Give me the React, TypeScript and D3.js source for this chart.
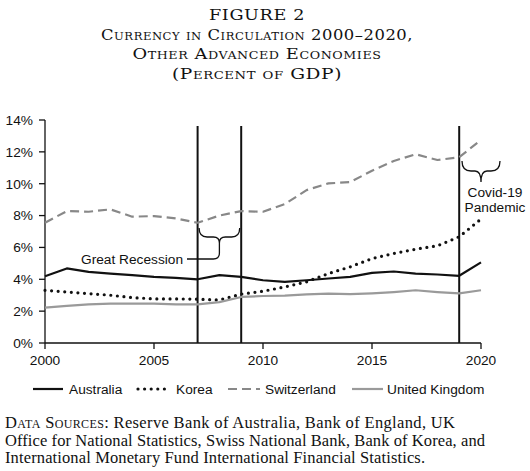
import * as d3 from 'd3';

const years = d3.range(2000, 2021);
const australia = [4.19, 4.68, 4.47, 4.36, 4.26, 4.15, 4.09, 4.0, 4.26, 4.15, 3.94, 3.84, 3.94, 4.05, 4.15, 4.4, 4.49, 4.36, 4.3, 4.22, 5.06];
const korea = [3.31, 3.2, 3.1, 3.0, 2.85, 2.77, 2.77, 2.75, 2.7, 3.07, 3.25, 3.52, 3.84, 4.36, 4.78, 5.3, 5.62, 5.89, 6.1, 6.67, 7.78];
const switzerland = [7.55, 8.28, 8.24, 8.39, 7.93, 7.97, 7.82, 7.55, 8.0, 8.28, 8.24, 8.72, 9.6, 10.02, 10.1, 10.82, 11.43, 11.85, 11.49, 11.66, 12.75];
const unitedKingdom = [2.22, 2.33, 2.43, 2.47, 2.47, 2.47, 2.43, 2.43, 2.57, 2.89, 2.95, 2.98, 3.05, 3.1, 3.07, 3.12, 3.2, 3.31, 3.2, 3.12, 3.31];
const yTicks = [0, 2, 4, 6, 8, 10, 12, 14];
const xTicks = [2000, 2005, 2010, 2015, 2020];
const eventYears = [2007, 2009, 2019];

const titleLines = [
    'FIGURE 2',
    'Currency in Circulation 2000–2020,',
    'Other Advanced Economies',
    '(Percent of GDP)',
];
const sourceLines = [
    ['Data Sources:', ' Reserve Bank of Australia, Bank of England, UK'],
    ['', 'Office for National Statistics, Swiss National Bank, Bank of Korea, and'],
    ['', 'International Monetary Fund International Financial Statistics.'],
];

const series = [
    { name: 'Australia', values: australia, color: '#111', width: 2.2, dash: undefined as string | undefined, cap: 'butt' },
    { name: 'Korea', values: korea, color: '#111', width: 3.2, dash: '0 6.6', cap: 'round' },
    { name: 'Switzerland', values: switzerland, color: '#888', width: 2.2, dash: '9 5', cap: 'butt' },
    { name: 'United Kingdom', values: unitedKingdom, color: '#9a9a9a', width: 2.2, dash: undefined, cap: 'butt' },
];

const W = 530;
const H = 471;
const SANS = '"Liberation Sans", Arial, sans-serif';
const SERIF = '"Liberation Serif", "Times New Roman", serif';
const TITLE_SERIF = '"DejaVu Serif", serif';
const FS = 13.7;

export default function App() {
    const x = d3.scaleLinear().domain([2000, 2020]).range([45, 481]);
    const y = d3.scaleLinear().domain([0, 14]).range([343, 120]);

    const line = d3
        .line<number>()
        .x((_, i) => x(years[i]))
        .y((d) => y(d));

    const titleWidths = [96, 312, 249, 170];
    const sourceWidths = [450, 480, 420];

    // legend layout
    const legend = [
        { x1: 33, x2: 63, tx: 69 },
        { x1: 138, x2: 166, tx: 176 },
        { x1: 228, x2: 260, tx: 265 },
        { x1: 352, x2: 383, tx: 387 },
    ];

    const gx0 = x(2007) + 1.5;
    const gx1 = x(2009) - 1.5;
    const gm = (x(2007) + x(2009)) / 2;

    return (
        <div style={{ position: 'absolute', left: 0, top: 0 }}>
            <svg width={W} height={H} style={{ display: 'block', background: '#fff' }}>
                {titleLines.map((t, i) => (
                    <text
                        key={i}
                        x={257}
                        y={20 + i * 19.5}
                        textAnchor="middle"
                        fontFamily={TITLE_SERIF}
                        fontSize={i === 0 ? 14.5 : 15.5}
                        fontVariant="small-caps"
                        letterSpacing={0.5}
                        textLength={titleWidths[i]}
                        lengthAdjust="spacingAndGlyphs"
                        fill="#111"
                    >
                        {t}
                    </text>
                ))}

                {/* y axis */}
                <line x1={45} x2={45} y1={y(14)} y2={y(0)} stroke="#111" strokeWidth={1.3} />
                {yTicks.map((t) => (
                    <g key={t}>
                        <line x1={39} x2={45} y1={y(t)} y2={y(t)} stroke="#111" strokeWidth={1.3} />
                        <text x={33} y={y(t)} dy="0.35em" textAnchor="end" fontFamily={SANS} fontSize={FS} fill="#111">
                            {t}%
                        </text>
                    </g>
                ))}

                {/* x axis */}
                <line x1={45} x2={x(2020)} y1={y(0)} y2={y(0)} stroke="#111" strokeWidth={1.3} />
                {xTicks.map((t) => (
                    <g key={t}>
                        <line x1={x(t)} x2={x(t)} y1={y(0)} y2={y(0) + 6} stroke="#111" strokeWidth={1.3} />
                        <text x={x(t)} y={365} textAnchor="middle" fontFamily={SANS} fontSize={FS} fill="#111">
                            {t}
                        </text>
                    </g>
                ))}

                {/* event lines */}
                {eventYears.map((t) => (
                    <line key={t} x1={x(t)} x2={x(t)} y1={126} y2={y(0)} stroke="#111" strokeWidth={2} />
                ))}

                {series.map((s) => (
                    <path
                        key={s.name}
                        d={line(s.values) || ''}
                        fill="none"
                        stroke={s.color}
                        strokeWidth={s.width}
                        strokeDasharray={s.dash}
                        strokeLinecap={s.cap as 'round' | 'butt'}
                        strokeLinejoin="round"
                    />
                ))}

                {/* Great Recession brace */}
                <path
                    d={`M${gx0},228 Q${gx0},237 ${gx0 + 8},237 L${gm - 6},237 Q${gm},237 ${gm},243 Q${gm},237 ${gm + 6},237 L${gx1 - 8},237 Q${gx1},237 ${gx1},228`}
                    fill="none"
                    stroke="#111"
                    strokeWidth={1.3}
                />
                <path
                    d={`M${gm},243 L${gm},253 Q${gm},259 ${gm - 6},259 L187,259`}
                    fill="none"
                    stroke="#111"
                    strokeWidth={1.3}
                />
                <text x={183} y={259} dy="0.35em" textAnchor="end" fontFamily={SANS} fontSize={FS} fill="#111">
                    Great Recession
                </text>

                {/* Covid brace */}
                <path
                    d={`M462,161 Q462,171 471,171 L475,171 Q481,171 481,182 Q481,171 487,171 L491,171 Q500,171 500,161`}
                    fill="none"
                    stroke="#111"
                    strokeWidth={1.3}
                />
                <text x={495} y={197} textAnchor="middle" fontFamily={SANS} fontSize={FS} fill="#111">
                    Covid-19
                </text>
                <text x={495} y={212} textAnchor="middle" fontFamily={SANS} fontSize={FS} fill="#111">
                    Pandemic
                </text>

                {/* legend */}
                {series.map((s, i) => (
                    <g key={s.name}>
                        <line
                            x1={legend[i].x1}
                            x2={legend[i].x2}
                            y1={389}
                            y2={389}
                            stroke={s.color}
                            strokeWidth={s.width}
                            strokeDasharray={s.dash}
                            strokeLinecap={s.cap as 'round' | 'butt'}
                        />
                        <text x={legend[i].tx} y={389} dy="0.35em" fontFamily={SANS} fontSize={FS} fill="#111">
                            {s.name}
                        </text>
                    </g>
                ))}

                {/* sources */}
                {sourceLines.map(([a, b], i) => (
                    <text
                        key={i}
                        x={5}
                        y={428 + i * 17.5}
                        fontFamily={SERIF}
                        fontSize={16.5}
                        textLength={sourceWidths[i]}
                        lengthAdjust="spacing"
                        fill="#111"
                    >
                        {a && <tspan fontVariant="small-caps">{a}</tspan>}
                        {b}
                    </text>
                ))}
            </svg>
        </div>
    );
}
